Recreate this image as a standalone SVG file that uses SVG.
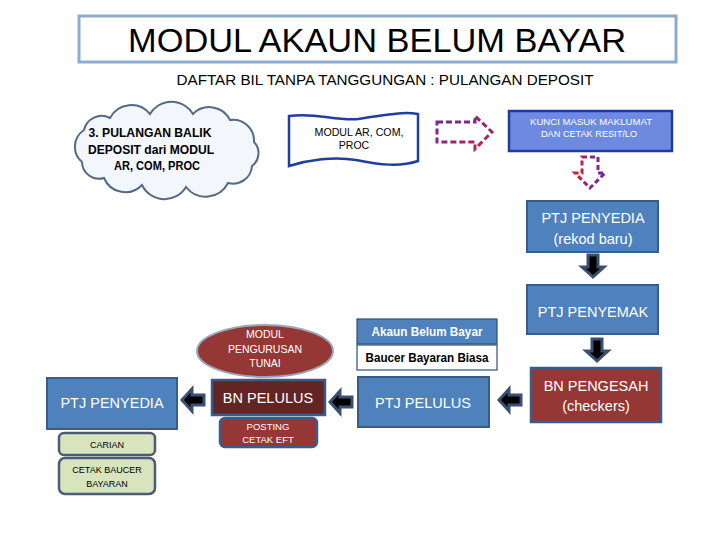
<svg xmlns="http://www.w3.org/2000/svg" width="720" height="540" viewBox="0 0 720 540">
  <defs>
    <style>
      text { font-family: "Liberation Sans", Arial, sans-serif; }
      .w { fill: #ffffff; }
      .k { fill: #000000; }
      .mid { text-anchor: middle; }
      .blue { fill: #4f81bd; stroke: #385d8a; stroke-width: 2; }
      .red { fill: #953735; stroke: #385d8a; stroke-width: 2.5; }
      .green { fill: #d7e4bd; stroke: #4a5d74; stroke-width: 2.5; }
      .arr { fill: #000000; stroke: #3b5070; stroke-width: 3; stroke-linejoin: miter; }
    </style>
    <path id="la" d="M-11,0 L-1,-11 L-1,-5 L11,-5 L11,5 L-1,5 L-1,11 Z"/>
    <linearGradient id="gr" x1="0" y1="0" x2="1" y2="1">
      <stop offset="0" stop-color="#6a2a9a"/>
      <stop offset="0.5" stop-color="#8a2a7a"/>
      <stop offset="1" stop-color="#d0202a"/>
    </linearGradient>
    <linearGradient id="gd" x1="0" y1="0" x2="1" y2="0">
      <stop offset="0" stop-color="#d0202a"/>
      <stop offset="0.5" stop-color="#8a2a7a"/>
      <stop offset="1" stop-color="#6a2a9a"/>
    </linearGradient>
  </defs>
  <rect width="720" height="540" fill="#ffffff"/>

  <g id="title">
    <rect x="79" y="16" width="597" height="46" fill="#ffffff" stroke="#8eaacc" stroke-width="3"/>
    <text x="377" y="52" class="mid k" font-size="34" textLength="498" lengthAdjust="spacingAndGlyphs">MODUL AKAUN BELUM BAYAR</text>
    <text x="385" y="85" class="mid k" font-size="14" textLength="417" lengthAdjust="spacingAndGlyphs">DAFTAR BIL TANPA TANGGUNGAN : PULANGAN DEPOSIT</text>
  </g>

  <g id="cloud">
    <path d="M84,130 A18,18 0 0 1 110,118 A24,24 0 0 1 150,114 A25,25 0 0 1 193,114 A23,23 0 0 1 230,120 A21,21 0 0 1 254,142 A16,16 0 0 1 252,166 A19,19 0 0 1 228,183 A25,25 0 0 1 186,187 A25,25 0 0 1 142,185 A23,23 0 0 1 104,178 A17,17 0 0 1 82,162 A20,20 0 0 1 84,130 Z" fill="#f3f6fb" stroke="#536a87" stroke-width="2"/>
    <text x="150" y="137" class="mid k" font-size="12" font-weight="bold" textLength="123" lengthAdjust="spacingAndGlyphs">3. PULANGAN BALIK</text>
    <text x="151" y="154" class="mid k" font-size="12" font-weight="bold" textLength="126" lengthAdjust="spacingAndGlyphs">DEPOSIT dari MODUL</text>
    <text x="157" y="170" class="mid k" font-size="12" font-weight="bold" textLength="86" lengthAdjust="spacingAndGlyphs">AR, COM, PROC</text>
  </g>

  <g id="modul-doc">
    <path d="M289,116 C315,112 335,121 358,119 C382,116 400,111 418,114 L418,161 C400,167 380,165 356,160 C334,156 308,160 289,166 Z" fill="#ffffff" stroke="#1f3f9f" stroke-width="2.5"/>
    <text x="359" y="136" class="mid k" font-size="10.5" textLength="89" lengthAdjust="spacingAndGlyphs">MODUL AR, COM,</text>
    <text x="354" y="149" class="mid k" font-size="10.5">PROC</text>
  </g>

  <g id="kunci">
    <rect x="509" y="111" width="163" height="40" fill="#6d8ae0" stroke="#1f3aa0" stroke-width="2.5"/>
    <text x="591" y="125" class="mid w" font-size="9.5" textLength="122" lengthAdjust="spacingAndGlyphs">KUNCI MASUK MAKLUMAT</text>
    <text x="589" y="137" class="mid w" font-size="9.5" textLength="96" lengthAdjust="spacingAndGlyphs">DAN CETAK RESIT/LO</text>
  </g>

  <g id="ptj-penyedia-baru">
    <rect x="527" y="201" width="131" height="51" class="blue"/>
    <text x="593" y="223" class="mid w" font-size="14.5">PTJ PENYEDIA</text>
    <text x="593" y="244" class="mid w" font-size="14.5">(rekod baru)</text>
  </g>

  <g id="ptj-penyemak">
    <rect x="527" y="285" width="131" height="49" class="blue"/>
    <text x="593" y="317" class="mid w" font-size="14.5">PTJ PENYEMAK</text>
  </g>

  <g id="bn-pengesah">
    <rect x="531" y="368" width="130" height="54" class="red"/>
    <text x="596" y="391" class="mid w" font-size="14.5">BN PENGESAH</text>
    <text x="596" y="411" class="mid w" font-size="14.5">(checkers)</text>
  </g>

  <g id="ptj-pelulus">
    <rect x="358" y="377" width="131" height="50" class="blue"/>
    <text x="423" y="408" class="mid w" font-size="14.5">PTJ PELULUS</text>
  </g>

  <g id="akaun-belum-bayar">
    <rect x="357" y="319" width="140" height="25" fill="#4f81bd" stroke="#2f4f7a" stroke-width="1.2"/>
    <text x="427" y="336" class="mid w" font-size="12" font-weight="bold" textLength="111" lengthAdjust="spacingAndGlyphs">Akaun Belum Bayar</text>
  </g>

  <g id="baucer-bayaran-biasa">
    <rect x="357" y="345" width="140" height="25" fill="#ffffff" stroke="#2f4f7a" stroke-width="1.2"/>
    <text x="427" y="362" class="mid k" font-size="12" font-weight="bold" textLength="123" lengthAdjust="spacingAndGlyphs">Baucer Bayaran Biasa</text>
  </g>

  <g id="modul-pengurusan-tunai">
    <ellipse cx="265" cy="351" rx="68" ry="26" fill="#953735" stroke="#9aa6b8" stroke-width="2"/>
    <text x="265" y="338" class="mid w" font-size="10.5">MODUL</text>
    <text x="265" y="353" class="mid w" font-size="10.5">PENGURUSAN</text>
    <text x="265" y="367" class="mid w" font-size="10.5">TUNAI</text>
  </g>

  <g id="bn-pelulus">
    <rect x="212" y="380" width="113" height="35" fill="#632523" stroke="#385d8a" stroke-width="2.5"/>
    <text x="268" y="403" class="mid w" font-size="14.5">BN PELULUS</text>
  </g>

  <g id="posting">
    <rect x="220" y="418" width="97" height="29" rx="5" class="red"/>
    <text x="268" y="430" class="mid w" font-size="9.5">POSTING</text>
    <text x="268" y="443" class="mid w" font-size="9.5">CETAK EFT</text>
  </g>

  <g id="ptj-penyedia">
    <rect x="47" y="378" width="130" height="51" class="blue"/>
    <text x="112" y="408" class="mid w" font-size="14.5">PTJ PENYEDIA</text>
  </g>

  <g id="carian">
    <rect x="59" y="433" width="96" height="22" rx="5" class="green"/>
    <text x="107" y="448" class="mid k" font-size="9">CARIAN</text>
  </g>

  <g id="cetak-baucer">
    <rect x="59" y="458" width="96" height="36" rx="6" class="green"/>
    <text x="107" y="473" class="mid k" font-size="9">CETAK BAUCER</text>
    <text x="107" y="487" class="mid k" font-size="9">BAYARAN</text>
  </g>

  <g id="connectors">
    <path d="M437,122 L475,122 L475,116 L492,132 L475,149 L475,142 L437,142 Z" fill="none" stroke="url(#gr)" stroke-width="3" stroke-dasharray="6 3"/>
    <path d="M582,157 L598,157 L598,173 L605,173 L590,188 L575,173 L582,173 Z" fill="none" stroke="url(#gd)" stroke-width="3" stroke-dasharray="5 3"/>
    <use href="#la" class="arr" transform="translate(593,266) rotate(-90)"/>
    <use href="#la" class="arr" transform="translate(597,350) rotate(-90)"/>
    <use href="#la" class="arr" transform="translate(510,400)"/>
    <use href="#la" class="arr" transform="translate(341,402)"/>
    <use href="#la" class="arr" transform="translate(193,400)"/>
  </g>
</svg>
